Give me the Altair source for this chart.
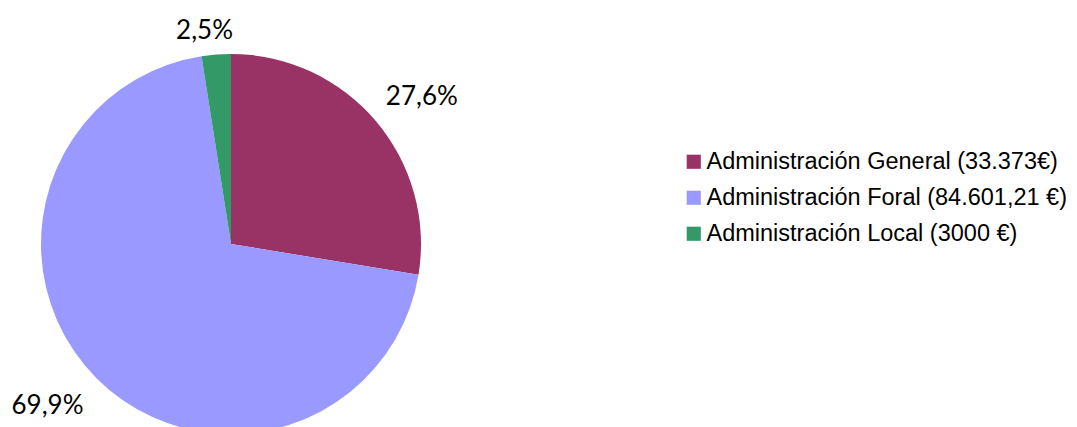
import altair as alt
import pandas as pd

categories = ["Administración General (33.373€)",
              "Administración Foral (84.601,21 €)",
              "Administración Local (3000 €)"]
values = [33373, 84601.21, 3000]
colors = ["#993366", "#9999FF", "#339966"]

total = sum(values)
pct_labels = [f"{v / total * 100:.1f}%".replace(".", ",") for v in values]

df = pd.DataFrame({
    "cat": categories,
    "value": values,
    "pct": pct_labels,
    "order": [0, 1, 2],
})

cx, cy, R = 223, 236, 190
# label placement (radius px, angular nudge in degrees) per slice
lab_style = {"General": (241, 2.7), "Foral": (245, 3.3), "Local": (215, -2.6)}

def pick(i):
    g, f, l = lab_style["General"][i], lab_style["Foral"][i], lab_style["Local"][i]
    return (f"indexof(datum.cat, 'General') >= 0 ? {g} : "
            f"(indexof(datum.cat, 'Foral') >= 0 ? {f} : {l})")

pie = alt.Chart(df).mark_arc(outerRadius=R, stroke=None).encode(
    theta=alt.Theta("value:Q", stack=True),
    order=alt.Order("order:Q"),
    x=alt.value(cx), y=alt.value(cy),
    color=alt.Color("cat:N", sort=categories,
                    scale=alt.Scale(domain=categories, range=colors),
                    legend=alt.Legend(
                        title=None, orient="none", legendX=674, legendY=142,
                        padding=0,
                        symbolType="square", symbolSize=200, symbolStrokeWidth=0,
                        labelFont="Liberation Sans", labelFontSize=23.5,
                        labelColor="#000000", rowPadding=11, labelOffset=1,
                        labelLimit=500)),
)

labels = alt.Chart(df).transform_window(
    cum="sum(value)", sort=[alt.SortField("order")]
).transform_joinaggregate(
    tot="sum(value)"
).transform_calculate(
    lr=pick(0), off=pick(1),
).transform_calculate(
    ang=f"2 * PI * (datum.cum - datum.value / 2) / datum.tot + datum.off * PI / 180",
).transform_calculate(
    px=f"{cx} + datum.lr * sin(datum.ang)",
    py=f"{cy} - datum.lr * cos(datum.ang)",
).mark_text(font="Lato", fontSize=26, color="#000000",
            align="center", baseline="middle").encode(
    x=alt.X("px:Q", scale=None),
    y=alt.Y("py:Q", scale=None),
    text="pct:N",
)

chart = alt.layer(pie, labels).properties(
    width=1061, height=419,
    autosize=alt.AutoSizeParams(type="none"),
    padding=0,
).configure_view(stroke=None)

chart.save("out.html", embed_options={"renderer": "svg", "actions": False})
